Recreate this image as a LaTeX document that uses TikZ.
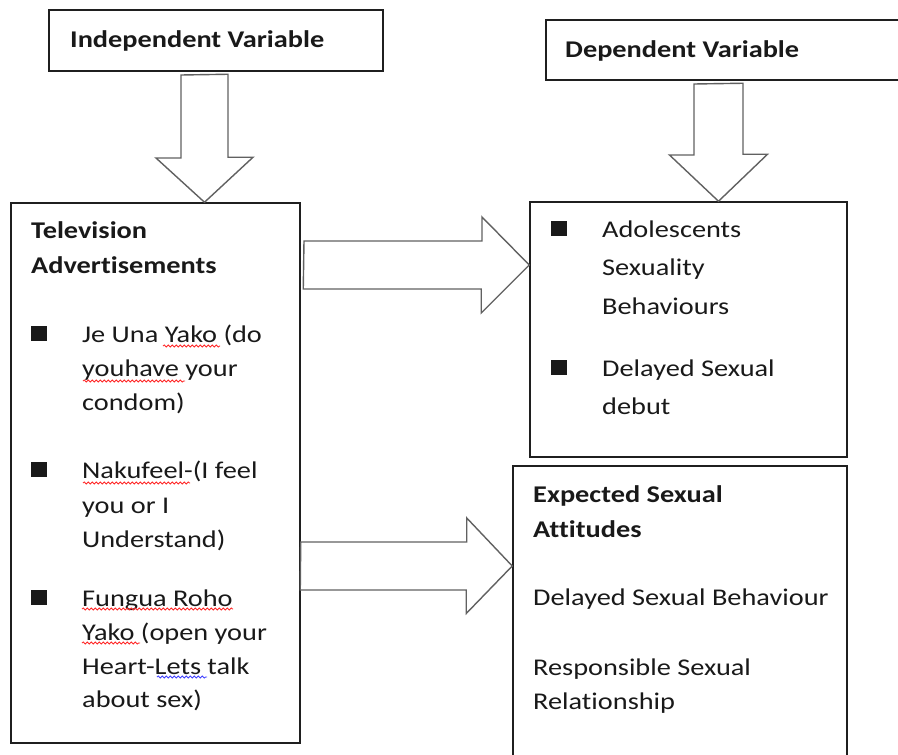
\documentclass[tikz,border=0pt]{standalone}
\usepackage{fontspec}
\setmainfont{Carlito}[FakeStretch=1.18, Ligatures=NoCommon]
\usetikzlibrary{positioning, calc, decorations.pathmorphing}

\newcommand{\sqbul}{\makebox[51pt][l]{\rule[1pt]{16pt}{15pt}}}
\newcommand{\hang}{\hspace*{51pt}}

\tikzset{
  box/.style={draw=black!88, line width=1.5pt, rectangle, inner sep=0pt},
  hollow/.style={draw=black!62, line width=1.4pt, fill=white, line join=miter},
  txt/.style={anchor=base west, inner sep=0pt, text=black!90,
    font=\fontsize{24}{34}\selectfont},
  squiggle/.style={line width=0.8pt, decorate,
    decoration={snake, amplitude=1.1pt, segment length=4pt}},
}

\begin{document}
\begin{tikzpicture}[x=1pt, y=-1pt]
  \useasboundingbox (0,0) rectangle (898,755);

  % boxes
  \node[box, minimum width=334pt, minimum height=61pt] (indep) at (216,40.5) {};
  \node[box, minimum width=420pt, minimum height=60pt] (dep) at (756,50) {};
  \node[box, minimum width=289pt, minimum height=540pt] (tv) at (155.5,473) {};
  \node[box, minimum width=317pt, minimum height=255pt] (adol) at (688.5,329.5) {};
  \node[box, minimum width=334pt, minimum height=324pt] (expect) at (680,628) {};

  % headings
  \node[txt] (indeptext) at (70,47) {\textbf{Independent Variable}};
  \node[txt] (deptext) at (565,57) {\textbf{Dependent Variable}};

  % television advertisements
  \node[txt] (tvtext) at (31,238) {\begin{minipage}[t]{265pt}
    \textbf{Television}\\[1pt]
    \textbf{Advertisements}\\[35pt]
    \sqbul Je Una Yako (do\\
    \hang youhave your\\
    \hang condom)\\[34pt]
    \sqbul Nakufeel-(I feel\\[1pt]
    \hang you or I\\
    \hang Understand)\\[25pt]
    \sqbul Fungua Roho\\
    \hang Yako (open your\\
    \hang Heart-Lets talk\\[-1pt]
    \hang about sex)
  \end{minipage}};

  % spelling marks
  \draw[squiggle, red!85] (163,346) -- (220,346);
  \draw[squiggle, red!85] (83,381) -- (185,381);
  \draw[squiggle, red!85] (83,483) -- (190,483);
  \draw[squiggle, red!85] (82,609) -- (233,609);
  \draw[squiggle, red!85] (82,643) -- (140,643);
  \draw[squiggle, blue!75] (157,677) -- (207,677);

  % outcomes
  \node[txt] (adoltext) at (551,237) {\begin{minipage}[t]{290pt}
    \fontsize{24}{38.5}\selectfont
    \sqbul Adolescents\\
    \hang Sexuality\\
    \hang Behaviours\\[23.5pt]
    \sqbul Delayed Sexual\\
    \hang debut
  \end{minipage}};

  \node[txt] (expecttext) at (533,502) {\begin{minipage}[t]{310pt}
    \textbf{Expected Sexual}\\[1pt]
    \textbf{Attitudes}\\[34pt]
    Delayed Sexual Behaviour\\[36pt]
    Responsible Sexual\\
    Relationship
  \end{minipage}};

  % hollow arrows
  \coordinate (d1) at (204.5,75);
  \draw[hollow] ($(d1)+(-23.5,0)$) -- ++(0,83) -- ++(-25,0) -- (d1 |- tv.north)
    -- ++(48.5,-45) -- ++(-25,0) -- ++(0,-83) -- cycle;
  \coordinate (d2) at (718.5,84);
  \draw[hollow] ($(d2)+(-24.5,0)$) -- ++(0,71) -- ++(-24.5,0) -- (d2 |- adol.north)
    -- ++(49,-47) -- ++(-24.5,0) -- ++(0,-71) -- cycle;
  \coordinate (r1) at (304,265);
  \draw[hollow] ($(r1)+(0,-24)$) -- ++(178,0) -- ++(0,-24) -- (r1 -| adol.west)
    -- ++(-48,48) -- ++(0,-24) -- ++(-178,0) -- cycle;
  \coordinate (r2) at (tv.east |- 0,566);
  \draw[hollow] ($(r2)+(0,-24)$) -- ++(166,0) -- ++(0,-24) -- (r2 -| expect.west)
    -- ++(-46,47.5) -- ++(0,-23.5) -- ++(-166,0) -- cycle;
\end{tikzpicture}
\end{document}
